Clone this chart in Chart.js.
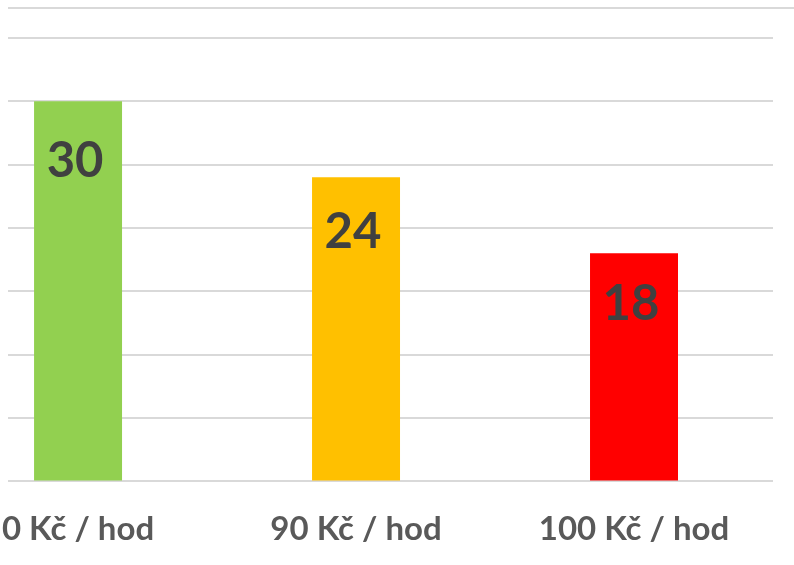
<!DOCTYPE html>
<html>
<head>
<meta charset="utf-8">
<script src="https://cdn.jsdelivr.net/npm/chart.js@4"></script>
<style>
  html, body { margin: 0; padding: 0; background: #ffffff; }
  #wrap { position: relative; width: 794px; height: 565px; }
</style>
</head>
<body>
<div id="wrap"><canvas id="c" width="794" height="565"></canvas></div>
<script>
const categories = ['0 Kč / hod', '90 Kč / hod', '100 Kč / hod'];
const values = [30, 24, 18];
const barColors = ['#92D050', '#FFC000', '#FF0000'];
const yTickStep = 5;
const yMax = 35;

const topLine = {
  id: 'topLine',
  beforeDraw(chart) {
    const ctx = chart.ctx;
    ctx.save();
    ctx.strokeStyle = '#d9d9d9';
    ctx.lineWidth = 2;
    ctx.beginPath();
    ctx.moveTo(8, 8);
    ctx.lineTo(chart.width, 8);
    ctx.stroke();
    ctx.restore();
  }
};

const valueLabels = {
  id: 'valueLabels',
  afterDatasetsDraw(chart) {
    const ctx = chart.ctx;
    const meta = chart.getDatasetMeta(0);
    ctx.save();
    ctx.font = 'bold 49px Lato';
    ctx.fillStyle = '#404040';
    ctx.textAlign = 'center';
    ctx.textBaseline = 'middle';
    meta.data.forEach((bar, i) => {
      const v = values[i];
      ctx.fillText(String(v), bar.x - 3, bar.y + 36 + 0.8 * v);
    });
    ctx.restore();
  }
};

new Chart(document.getElementById('c'), {
  type: 'bar',
  data: {
    datasets: [{
      data: values.map((v, i) => ({ x: i, y: v })),
      backgroundColor: barColors,
      borderWidth: 0,
      categoryPercentage: 1,
      barPercentage: 0.3165
    }]
  },
  options: {
    responsive: false,
    animation: false,
    layout: { padding: { left: 8, right: 21, top: 38, bottom: -12 } },
    plugins: { legend: { display: false }, tooltip: { enabled: false } },
    scales: {
      x: {
        type: 'linear',
        offset: false,
        min: -0.252,
        max: 2.5,
        afterBuildTicks: (s) => { s.ticks = categories.map((_, i) => ({ value: i })); },
        afterFit: (s) => { s.paddingLeft = 0; s.paddingRight = 0; },
        grid: { display: false, drawTicks: false },
        border: { display: false },
        ticks: {
          callback: (v) => categories[v],
          font: { family: 'Lato', size: 33, weight: 'bold' },
          color: '#595959',
          padding: 28,
          maxRotation: 0,
          autoSkip: false
        }
      },
      y: {
        min: 0,
        max: yMax,
        ticks: { display: false, stepSize: yTickStep },
        grid: { color: '#d9d9d9', lineWidth: 2, drawTicks: false },
        border: { display: false }
      }
    }
  },
  plugins: [topLine, valueLabels]
});
</script>
</body>
</html>
